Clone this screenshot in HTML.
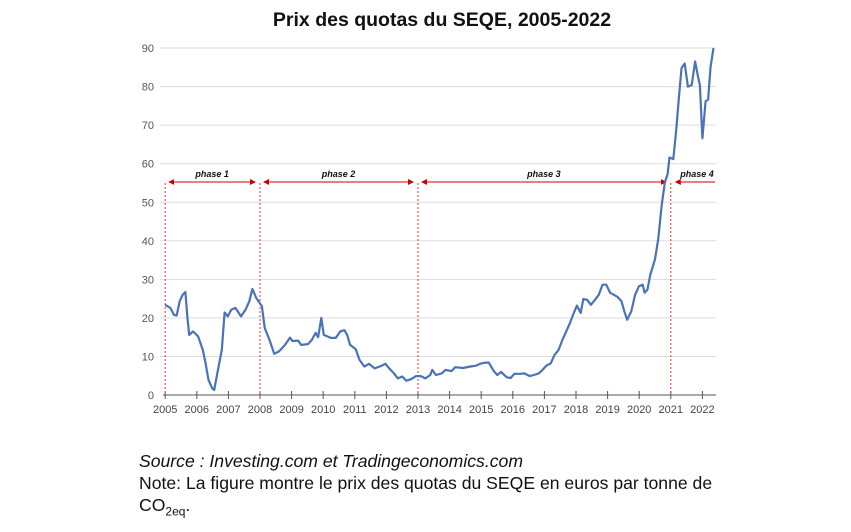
<!DOCTYPE html>
<html><head><meta charset="utf-8"><style>
body{margin:0;background:#fff;width:851px;height:532px;overflow:hidden;font-family:"Liberation Sans",sans-serif}
svg{position:absolute;left:0;top:0}
.note{position:absolute;left:139px;font-size:17.6px;color:#111;white-space:nowrap}
</style></head><body>
<svg width="851" height="532">
<text x="442" y="26" text-anchor="middle" font-size="19.5" font-weight="bold" fill="#111">Prix des quotas du SEQE, 2005-2022</text>
<g id="grid"></g><g id="xaxis"></g><g id="phases"></g><g id="series"></g>
</svg>
<div class="note" style="top:451px;font-style:italic">Source : Investing.com et Tradingeconomics.com</div>
<div class="note" style="top:473px">Note: La figure montre le prix des quotas du SEQE en euros par tonne de</div>
<div class="note" style="top:495px">CO<sub style="font-size:12px">2eq</sub>.</div>
<script>
const years=[2005,2005.16,2005.28,2005.36,2005.46,2005.55,2005.64,2005.7,2005.76,2005.88,2006.04,2006.19,2006.28,2006.37,2006.49,2006.55,2006.65,2006.79,2006.88,2006.98,2007.09,2007.22,2007.4,2007.54,2007.66,2007.76,2007.88,2007.98,2008.06,2008.15,2008.3,2008.45,2008.6,2008.79,2008.95,2009.03,2009.21,2009.3,2009.52,2009.64,2009.76,2009.84,2009.94,2010.02,2010.24,2010.4,2010.54,2010.67,2010.76,2010.85,2011.03,2011.15,2011.3,2011.45,2011.63,2011.82,2011.97,2012.09,2012.24,2012.36,2012.5,2012.63,2012.78,2012.94,2013.09,2013.23,2013.39,2013.45,2013.57,2013.75,2013.87,2014.06,2014.18,2014.42,2014.66,2014.84,2014.96,2015.14,2015.24,2015.39,2015.51,2015.63,2015.81,2015.93,2016.05,2016.24,2016.36,2016.54,2016.66,2016.82,2016.94,2017.06,2017.2,2017.32,2017.45,2017.57,2017.69,2017.81,2017.93,2018.03,2018.15,2018.23,2018.35,2018.47,2018.6,2018.72,2018.84,2018.96,2019.08,2019.2,2019.32,2019.44,2019.53,2019.62,2019.75,2019.87,2019.99,2020.11,2020.17,2020.26,2020.35,2020.5,2020.6,2020.71,2020.81,2020.9,2020.96,2021.08,2021.17,2021.26,2021.34,2021.44,2021.54,2021.66,2021.77,2021.86,2021.92,2022.0,2022.1,2022.18,2022.26,2022.35];
const prices=[23.4,22.6,20.8,20.6,24.3,26,26.7,20.4,15.6,16.5,15.2,11.7,8.2,3.9,1.7,1.3,5.6,11.7,21.4,20.4,22.1,22.6,20.4,22.1,24.3,27.5,25.2,24,23,17.4,14.3,10.7,11.3,13,14.9,14,14.1,13,13.2,14.3,16.1,15,20,15.6,14.8,14.8,16.5,16.8,15.6,13,11.9,9.1,7.4,8.1,6.9,7.5,8.1,6.9,5.6,4.3,4.8,3.7,4.1,4.9,4.9,4.3,5.2,6.5,5.2,5.6,6.5,6.2,7.2,7,7.4,7.6,8.1,8.4,8.4,6.3,5.2,6,4.6,4.4,5.5,5.5,5.6,4.9,5.2,5.6,6.5,7.6,8.2,10.4,11.7,14.3,16.5,18.7,21.3,23.2,21.3,24.9,24.7,23.4,24.7,26,28.6,28.6,26.5,26,25.4,24.3,21.7,19.5,21.7,26,28.2,28.6,26.5,27.3,31.2,35.2,40.4,49,55.1,57.3,61.6,61.2,68.7,77.4,84.8,86,80,80.4,86.5,82.6,80.4,66.6,76.2,76.6,85.2,90];
const yTicks=[0,10,20,30,40,50,60,70,80,90];
const xTicks=[2005,2006,2007,2008,2009,2010,2011,2012,2013,2014,2015,2016,2017,2018,2019,2020,2021,2022];
const phaseStarts=[2005,2008,2013,2021];
const phaseLabels=["phase 1","phase 2","phase 3","phase 4"];
const NS="http://www.w3.org/2000/svg";
const X=y=>165.2+(y-2005)*31.6, Y=v=>395-v*3.855;
function mk(t,a,p){const e=document.createElementNS(NS,t);for(const k in a)e.setAttribute(k,a[k]);p.appendChild(e);return e;}
const grid=document.getElementById('grid'),xa=document.getElementById('xaxis'),ph=document.getElementById('phases'),se=document.getElementById('series');
yTicks.forEach(v=>{
 if(v>0){const l=mk('line',{x1:160,x2:716,y1:Y(v),y2:Y(v),stroke:'#dcdcdc','stroke-width':1},grid);
 
 }
 const t=mk('text',{x:154,y:Y(v)+4,'text-anchor':'end','font-size':11,fill:'#555'},grid);t.textContent=v;
 
 
});
const ax=mk('line',{x1:163,x2:716,y1:395,y2:395,stroke:'#555','stroke-width':1},xa);


xTicks.forEach(y=>{
 mk('line',{x1:X(y),x2:X(y),y1:391,y2:399,stroke:'#555'},xa);
 const t=mk('text',{x:X(y),y:413,'text-anchor':'middle','font-size':11,fill:'#444'},xa);t.textContent=y;
 
 
});
mk('defs',{},ph).innerHTML='<marker id="ar" markerWidth="6" markerHeight="6" refX="5" refY="3" orient="auto-start-reverse"><path d="M0,0 L6,3 L0,6z" fill="#c00"/></marker>';
phaseStarts.forEach((s,i)=>{
 const l=mk('line',{x1:X(s),x2:X(s),y1:183,y2:395,stroke:'#e33','stroke-width':1,'stroke-dasharray':'2,2'},ph);
 
 
 const a=i<3?X(s)+4:X(s)+5, b=i<3?X(phaseStarts[i+1])-5:715;
 const ar=mk('line',{x1:a,x2:b,y1:182,y2:182,stroke:'#c00','stroke-width':1,'marker-start':'url(#ar)'},ph);
 if(i<3)ar.setAttribute('marker-end','url(#ar)');
 
 
 const t=mk('text',{x:i<3?(a+b)/2:697,y:177,'text-anchor':'middle','font-size':9,'font-weight':'bold','font-style':'italic',fill:'#111'},ph);t.textContent=phaseLabels[i];
 
 
});
const p=mk('polyline',{points:years.map((y,i)=>X(y).toFixed(1)+','+Y(prices[i]).toFixed(1)).join(' '),fill:'none',stroke:'#4a72b8','stroke-width':2.2,'stroke-linejoin':'round'},se);


</script>
</body></html>
